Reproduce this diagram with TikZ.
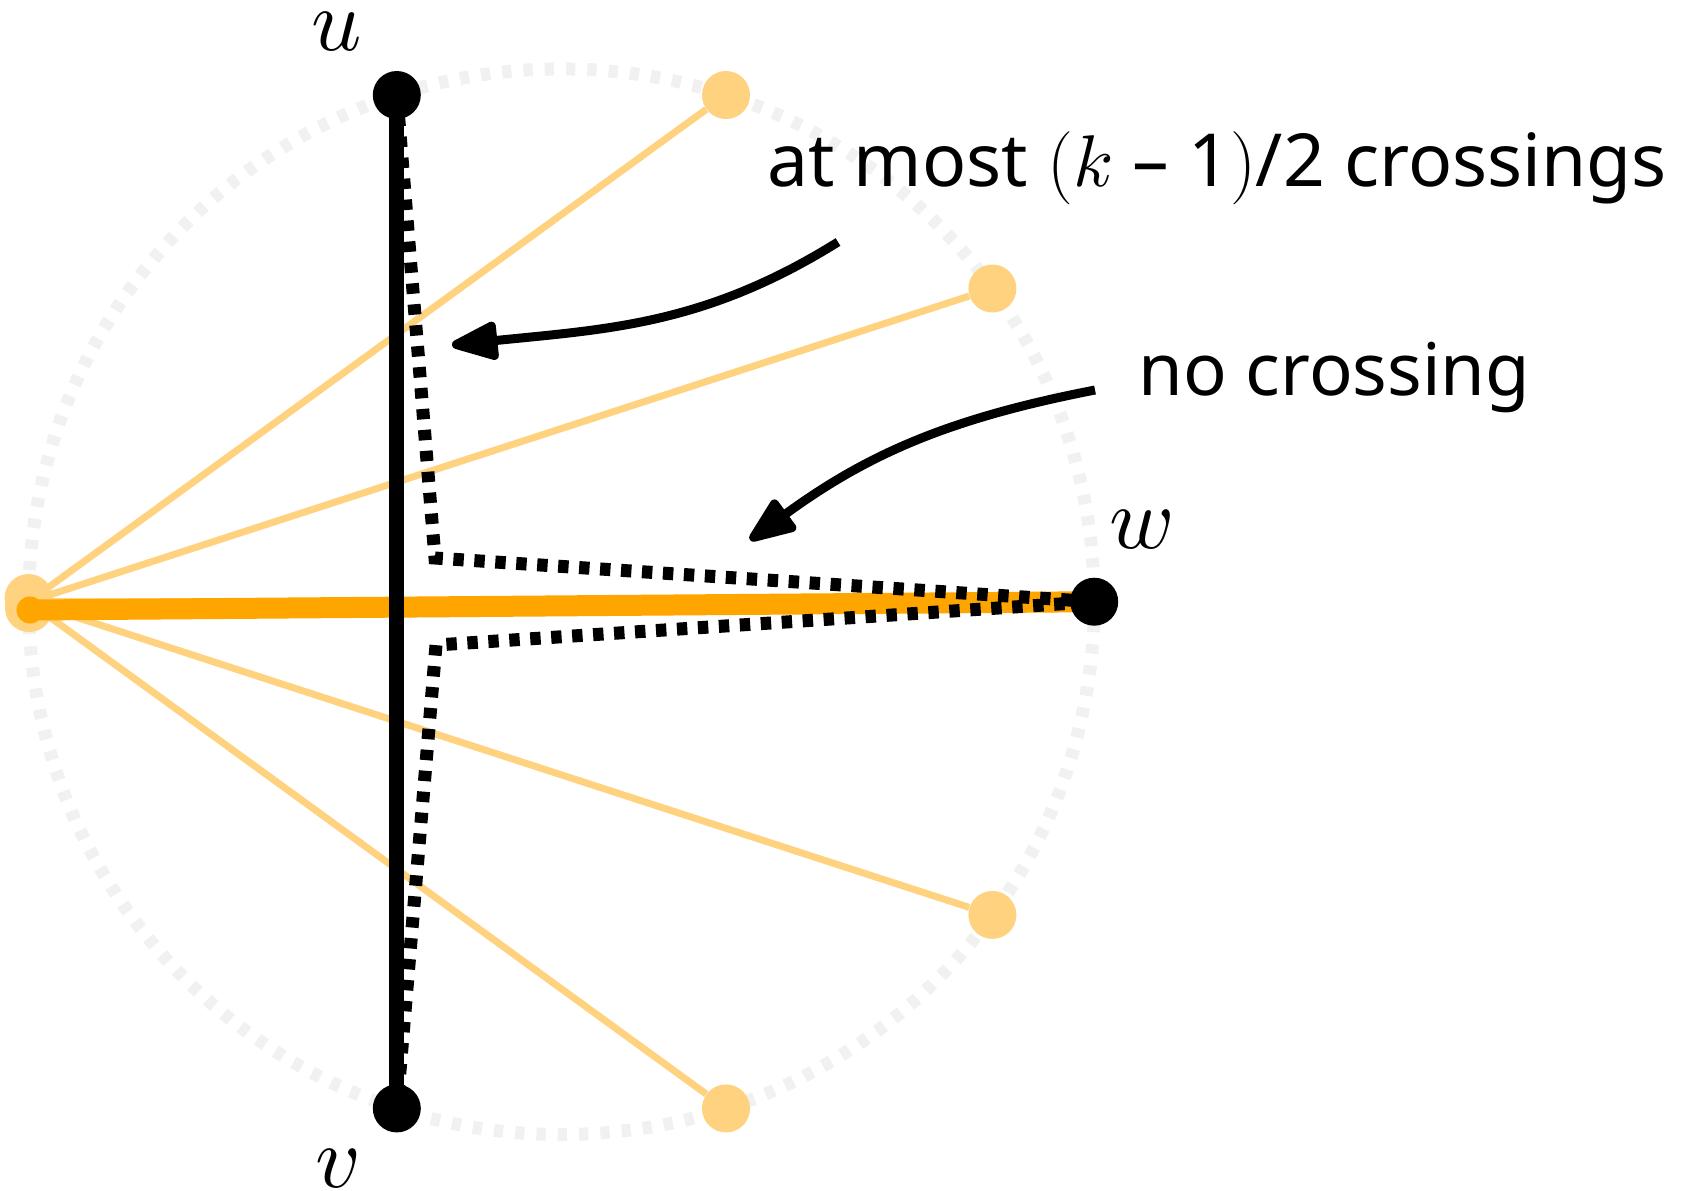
\documentclass[tikz,border=0pt]{standalone}
\usepackage{fontspec}
\setmainfont{Noto Sans}
\newfontfamily\lmr{Latin Modern Roman}
\DeclareFontFamily{OML}{xcmm}{\skewchar\font127 }
\DeclareFontShape{OML}{xcmm}{m}{it}{<->cmmi10}{}
\DeclareSymbolFont{letters}{OML}{xcmm}{m}{it}
\usetikzlibrary{arrows.meta}
\definecolor{lorange}{RGB}{255,210,127}
\definecolor{dorange}{RGB}{255,165,0}
\definecolor{cgray}{RGB}{240,241,240}
\pgfdeclarelayer{bg}
\pgfdeclarelayer{mid}
\pgfsetlayers{bg,mid,main}
\begin{document}
\begin{tikzpicture}[x=0.5pt,y=-0.5pt,
  ringstyle/.style={draw=cgray, line width=6.5pt, dash pattern=on 4.6pt off 6.06pt},
  fanedge/.style={draw=lorange, line width=3.5pt},
  lnode/.style={circle, fill=lorange, minimum size=24pt, inner sep=0pt},
  bnode/.style={circle, fill=black, minimum size=24pt, inner sep=0pt},
  mainedge/.style={draw=black, line width=7.5pt},
  hledge/.style={draw=dorange, line width=10.5pt},
  dotpath/.style={draw=black, line width=6.5pt, dash pattern=on 5.2pt off 5.3pt},
  callout/.style={draw=black, line width=4.5pt, -{Triangle[length=27pt,width=20pt,round]}},
  bigtext/.style={anchor=base west, inner sep=0pt, font=\fontsize{36.2}{44}\selectfont},
  vlabel/.style={inner sep=0pt, anchor=center, font=\fontsize{44}{52}\selectfont}
]
\useasboundingbox (0,0) rectangle (1689,1190);

% black vertices
\node[bnode] (u) at (396.8,95) {};
\node[bnode] (v) at (396.8,1108.4) {};
\node[bnode] (w) at (1094.2,601.7) {};

\begin{pgfonlayer}{bg}
  \fill[white] (0,0) rectangle (1689,1190);
  \draw[ringstyle] (561.4,601.7) circle[radius=532.8];
\end{pgfonlayer}

\begin{pgfonlayer}{mid}
  \node[lnode] (p72) at (726,95) {};
  \node[lnode] (p36) at (992.4,288.5) {};
  \node[lnode] (p324) at (992.4,914.9) {};
  \node[lnode] (p288) at (726,1108.4) {};
  \node[lnode] (L) at (28.6,598) {};
  \node[lnode] (Lh) at (29,608) {};
  \node[circle, fill=dorange, minimum size=13.5pt, inner sep=0pt] (Ls) at (30,610) {};
  \draw[hledge] (Ls.center) -- (w.center);
  \draw[mainedge] (u.center) -- (v.center);
  \coordinate (c1) at (435,558);
  \coordinate (c2) at (436,645);
  \draw[dotpath] (u.center) -- (c1) -- (w.center) -- (c2) -- (v.center);
\end{pgfonlayer}

\begin{pgfonlayer}{bg}
  \coordinate (Lc) at (28.6,601.7);
  \draw[fanedge] (Lc) -- (p72);
  \draw[fanedge] (Lc) -- (p36);
  \draw[fanedge] (Lc) -- (w);
  \draw[fanedge] (Lc) -- (p324);
  \draw[fanedge] (Lc) -- (p288);
\end{pgfonlayer}

% labels
\node[vlabel] (lu) at (337,32) {$u$};
\node[vlabel] (lv) at (338,1169) {$v$};
\node[vlabel] (lw) at (1142,530) {$w$};

% texts
\node[bigtext, font=\fontsize{36.6}{44}\selectfont] (t1) at (767,186) {at most {\lmr(}$k$ – 1{\lmr)}/2 crossings};
\node[bigtext] (t2) at (1138,395) {no crossing};

% callouts
\coordinate (a1s) at (838,242);
\coordinate (a1e) at (452,345);
\coordinate (a2s) at (1095,390);
\coordinate (a2e) at (750,540);
\draw[callout] (a1s) .. controls (705,325) and (608,329) .. (a1e);
\draw[callout] (a2s) .. controls (951,418) and (869,453) .. (a2e);
\end{tikzpicture}
\end{document}
